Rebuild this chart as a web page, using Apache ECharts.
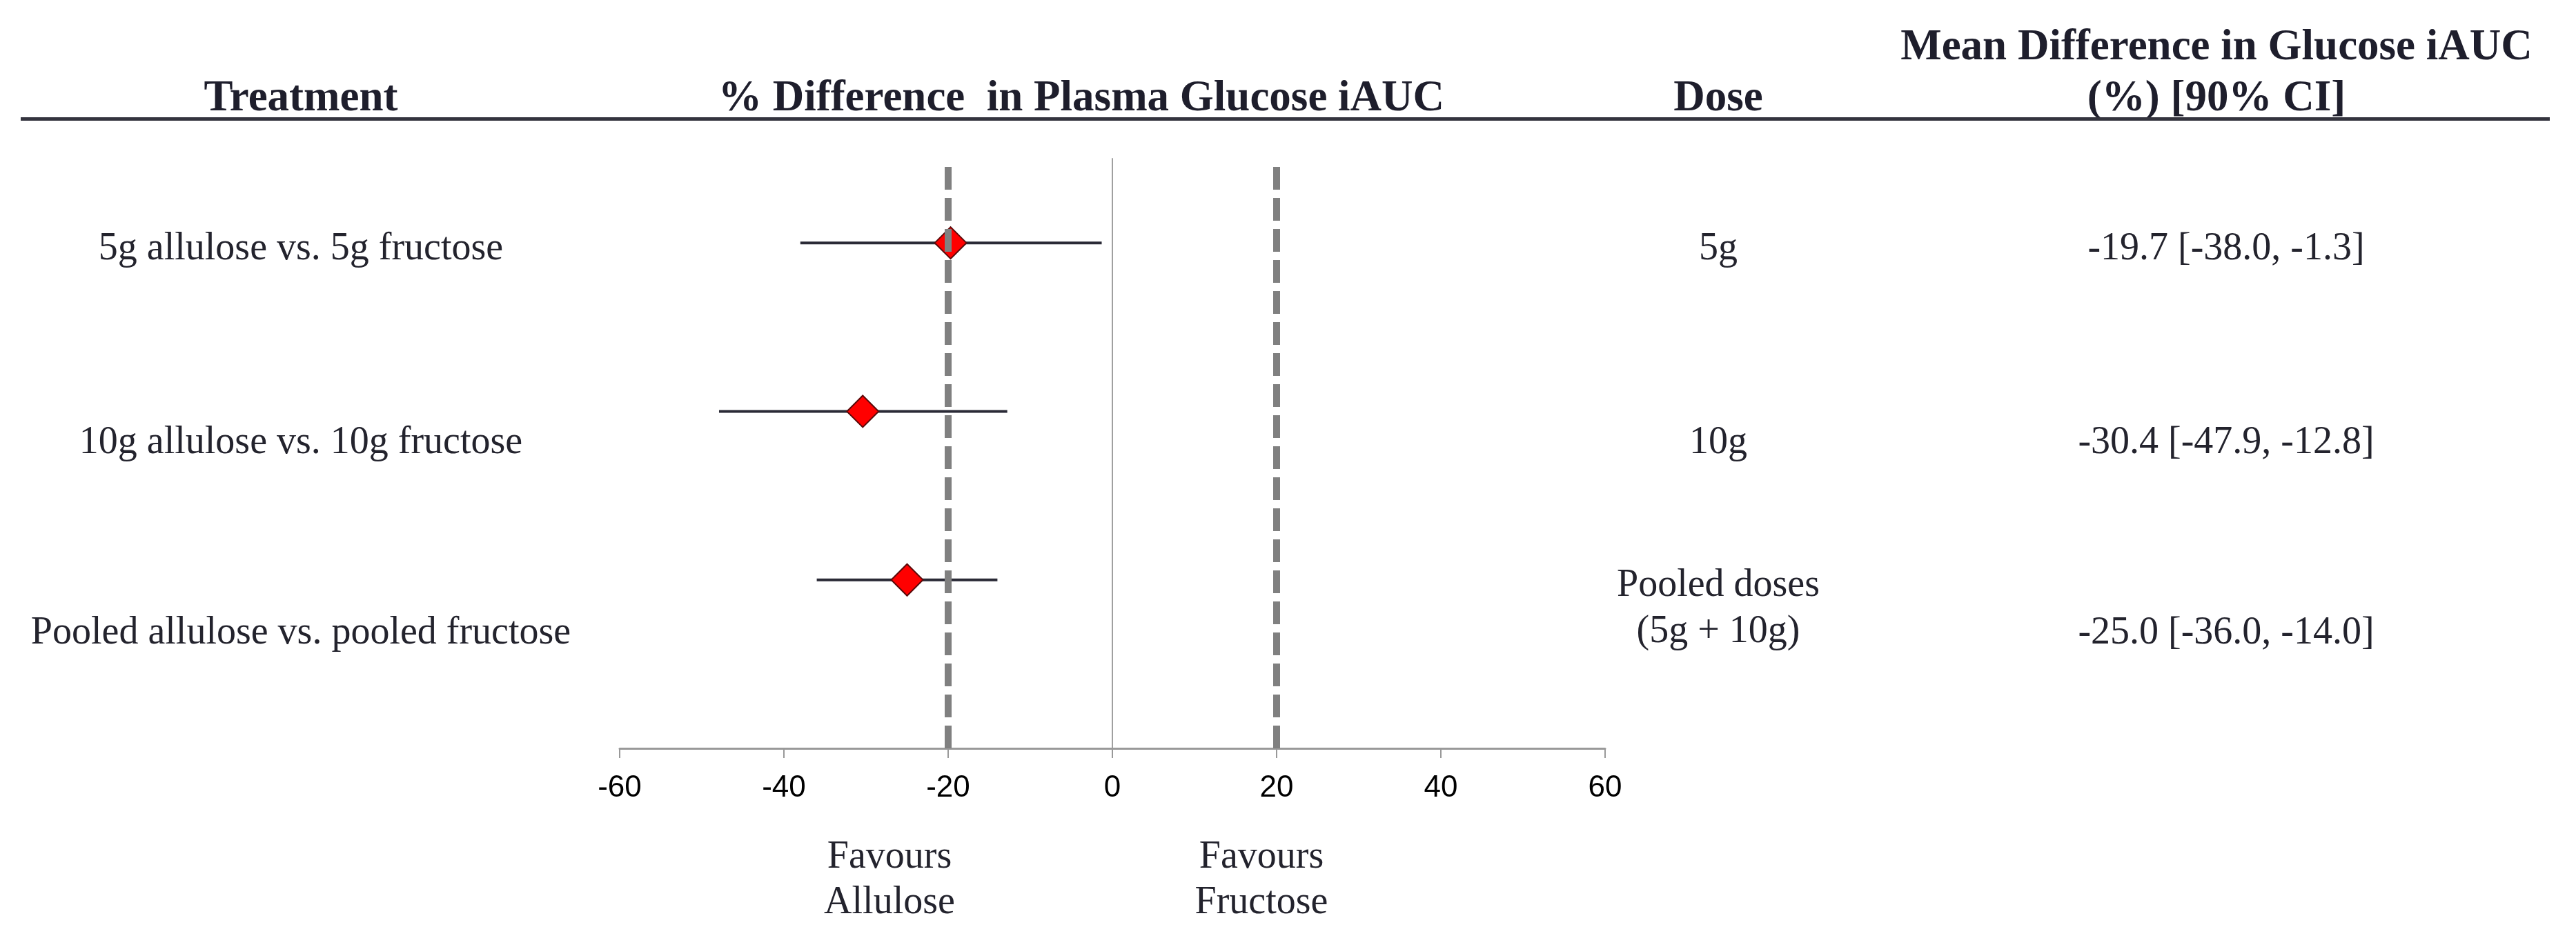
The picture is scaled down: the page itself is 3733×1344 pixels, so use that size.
<!DOCTYPE html>
<html>
<head>
<meta charset="utf-8">
<script src="https://cdn.jsdelivr.net/npm/echarts@6/dist/echarts.min.js"></script>
<style>
html,body{margin:0;padding:0;background:#fff;}
#chart{width:3733px;height:1344px;}
</style>
</head>
<body>
<div id="chart"></div>
<script>
// ---- data ----
const treatments = ['5g allulose vs. 5g fructose', '10g allulose vs. 10g fructose', 'Pooled allulose vs. pooled fructose'];
const doses = ['5g', '10g', 'Pooled doses\n(5g + 10g)'];
const meanDiff = [-19.7, -30.4, -25.0];
const ciLower = [-38.0, -47.9, -36.0];
const ciUpper = [-1.3, -12.8, -14.0];
const rowPos = [3, 2, 1];
const equivMargins = [-20, 20];
const headers = ['Treatment', '% Difference  in Plasma Glucose iAUC', 'Dose', 'Mean Difference in Glucose iAUC\n(%) [90% CI]'];
const favours = ['Favours\nAllulose', 'Favours\nFructose'];

// ---- layout ----
const SERIF = "'Liberation Serif','Times New Roman',serif";
const TXT = '#23232d';
const rowTextY = [361, 642, 918];
const doseTextY = [361, 642, 883];
const colX = {treat: 436, dose: 2490, ci: 3226};
const headerX = [436, 1567, 2490, 3212];
const favoursX = [1289, 1828];

const chart = echarts.init(document.getElementById('chart'), null, {renderer: 'canvas'});

const ciText = meanDiff.map((m, i) => `${m.toFixed(1)} [${ciLower[i].toFixed(1)}, ${ciUpper[i].toFixed(1)}]`);

const graphics = [];
// header rule
graphics.push({type: 'rect', shape: {x: 30, y: 170, width: 3665, height: 5}, style: {fill: '#34343e'}, z: 10});
headers.forEach((h, i) => {
  const lines = h.split('\n');
  lines.forEach((ln, k) => {
    const y = 144 - (lines.length - 1 - k) * 74;
    graphics.push({
      type: 'text', x: headerX[i], y: y,
      style: {text: ln, font: `bold 63px ${SERIF}`, fill: '#1e1e2c', textAlign: 'center', textVerticalAlign: 'middle'}
    });
  });
});
treatments.forEach((t, i) => {
  graphics.push({type: 'text', x: colX.treat, y: rowTextY[i],
    style: {text: t, font: `56px ${SERIF}`, fill: TXT, textAlign: 'center', textVerticalAlign: 'middle'}});
  graphics.push({type: 'text', x: colX.dose, y: doseTextY[i],
    style: {text: doses[i], font: `56px ${SERIF}`, fill: TXT, textAlign: 'center', textVerticalAlign: 'middle', lineHeight: 67}});
  graphics.push({type: 'text', x: colX.ci, y: rowTextY[i],
    style: {text: ciText[i], font: `56px ${SERIF}`, fill: TXT, textAlign: 'center', textVerticalAlign: 'middle'}});
});
favours.forEach((f, i) => {
  graphics.push({type: 'text', x: favoursX[i], y: 1276,
    style: {text: f, font: `56px ${SERIF}`, fill: TXT, textAlign: 'center', textVerticalAlign: 'middle', lineHeight: 66}});
});

const option = {
  backgroundColor: '#ffffff',
  animation: false,
  grid: {left: 898, right: 1407, top: 230, bottom: 259, containLabel: false},
  xAxis: {
    type: 'value', min: -60, max: 60, interval: 20,
    axisLine: {show: true, onZero: false, lineStyle: {color: '#999999', width: 3}},
    axisTick: {show: true, length: 14, inside: false, lineStyle: {color: '#999999', width: 2}},
    axisLabel: {show: true, margin: 36, color: '#000', fontSize: 44, fontFamily: "'Liberation Sans', Arial, sans-serif"},
    splitLine: {show: false}
  },
  yAxis: {
    type: 'value', min: 0, max: 3.5,
    axisLine: {show: true, onZero: true, lineStyle: {color: '#a0a0a0', width: 2}},
    axisTick: {show: false}, axisLabel: {show: false}, splitLine: {show: false}
  },
  series: [
    {
      type: 'custom', name: 'ci', z: 2,
      data: rowPos.map((y, i) => [ciLower[i], ciUpper[i], y]),
      renderItem: function (params, api) {
        const a = api.coord([api.value(0), api.value(2)]);
        const b = api.coord([api.value(1), api.value(2)]);
        return {type: 'line', shape: {x1: a[0], y1: a[1], x2: b[0], y2: b[1]},
          style: {stroke: '#2a2a36', lineWidth: 4}};
      }
    },
    {
      type: 'scatter', name: 'mean', z: 3,
      symbol: 'diamond', symbolSize: 46,
      itemStyle: {color: '#ff0000', borderColor: '#5a0a0a', borderWidth: 2, opacity: 1},
      data: rowPos.map((y, i) => [meanDiff[i], y])
    },
    {
      type: 'line', name: 'margins', z: 5, data: [],
      markLine: {
        silent: true, symbol: ['none', 'none'], label: {show: false},
        lineStyle: {color: '#808080', width: 10, type: [33, 12], opacity: 1},
        data: equivMargins.map(v => ({xAxis: v}))
      }
    }
  ],
  graphic: graphics
};
chart.setOption(option);
</script>
</body>
</html>
